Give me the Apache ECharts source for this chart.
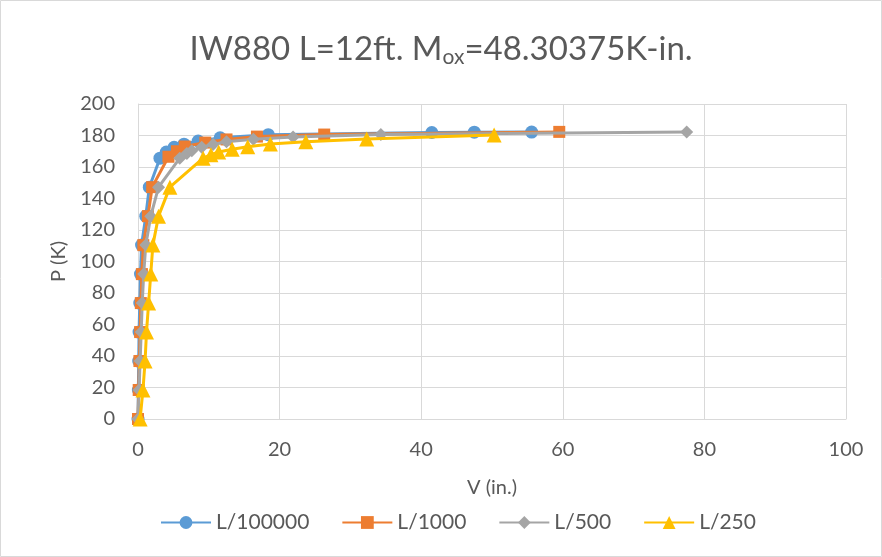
<!DOCTYPE html>
<html>
<head>
<meta charset="utf-8">
<script src="https://cdn.jsdelivr.net/npm/echarts@6/dist/echarts.min.js"></script>
<style>
  html, body { margin: 0; padding: 0; background: #fff; }
  #chart { width: 882px; height: 557px; }
</style>
</head>
<body>
<div id="chart"></div>
<script>
// Load P (K) against displacement V (in.) for four deflection limits
const seriesNames = ['L/100000', 'L/1000', 'L/500', 'L/250'];

const vL100000 = [0, 0.05, 0.1, 0.15, 0.25, 0.35, 0.5, 1.1, 1.6, 3.1, 4.0, 5.1, 6.5, 8.5, 11.6, 18.4, 41.5, 47.5, 55.6];
const pL100000 = [0, 18.4, 36.8, 55.2, 73.6, 92, 110.4, 128.8, 147.2, 165.6, 169.5, 172.5, 174.5, 176.5, 178.5, 180.5, 181.9, 182.1, 182.2];

const vL1000 = [0, 0.1, 0.2, 0.3, 0.4, 0.55, 0.75, 1.4, 2.0, 4.3, 5.5, 6.6, 9.5, 12.5, 16.8, 26.3, 59.5];
const pL1000 = [0, 18.4, 36.8, 55.2, 73.6, 92, 110.4, 128.8, 147.2, 166.5, 170, 173, 175.5, 177.5, 179.3, 180.6, 182.3];

const vL500 = [0, 0.15, 0.3, 0.45, 0.6, 0.8, 1.1, 1.8, 2.9, 5.9, 6.9, 7.6, 9.0, 10.6, 12.5, 16.3, 21.9, 34.3, 77.5];
const pL500 = [0, 18.4, 36.8, 55.2, 73.6, 92, 110.4, 128.8, 147.2, 165.6, 168.5, 170.3, 172.5, 174.3, 176, 177.6, 179, 180.6, 182.3];

const vL250 = [0.3, 0.7, 1.0, 1.2, 1.5, 1.8, 2.1, 2.9, 4.5, 9.2, 10.3, 11.4, 13.3, 15.5, 18.7, 23.7, 32.3, 50.3];
const pL250 = [0, 18.4, 36.8, 55.2, 73.6, 92, 110.4, 128.8, 147.2, 165.6, 167.8, 169.5, 171.3, 172.8, 174.6, 176, 177.8, 180.3];

const xTicks = [0, 20, 40, 60, 80, 100];
const yTicks = [0, 20, 40, 60, 80, 100, 120, 140, 160, 180, 200];

const colors = ['#5b9bd5', '#ed7d31', '#a5a5a5', '#ffc000'];
const symbols = ['circle', 'rect', 'diamond', 'triangle'];
const symbolSizes = [13, 12, 13, 15];
const vData = [vL100000, vL1000, vL500, vL250];
const pData = [pL100000, pL1000, pL500, pL250];

const font = 'Lato, "Open Sans", sans-serif';
const textColor = '#595959';
const gridColor = '#d9d9d9';

const chart = echarts.init(document.getElementById('chart'), null, { renderer: 'canvas' });

const series = seriesNames.map((name, i) => ({
  name,
  type: 'line',
  data: vData[i].map((v, k) => [v, pData[i][k]]),
  symbol: symbols[i],
  symbolSize: symbolSizes[i],
  showAllSymbol: true,
  lineStyle: { color: colors[i], width: 3 },
  itemStyle: { color: colors[i] },
  z: 2 + i,
  animation: false
}));

chart.setOption({
  animation: false,
  color: colors,
  title: {
    text: '{a|IW880 L=12ft. M}{s|ox}{a|=48.30375K-in.}',
    left: 'center',
    top: 25,
    textStyle: {
      rich: {
        a: { fontFamily: font, fontSize: 33, fontWeight: 'normal', color: textColor },
        s: { fontFamily: font, fontSize: 21, fontWeight: 'normal', color: textColor, padding: [17, 0, 0, 0] }
      }
    }
  },
  graphic: [{
    type: 'rect',
    shape: { x: 0.5, y: 0.5, width: 881, height: 556 },
    style: { fill: 'none', stroke: gridColor, lineWidth: 1 },
    silent: true
  }],
  grid: { left: 138, right: 36, top: 104, bottom: 138 },
  legend: {
    data: seriesNames,
    bottom: 19,
    left: 155,
    itemWidth: 50,
    itemHeight: 16,
    itemGap: 32,
    textStyle: { fontFamily: font, fontSize: 21, color: textColor }
  },
  xAxis: {
    type: 'value',
    min: xTicks[0],
    max: xTicks[xTicks.length - 1],
    interval: 20,
    name: 'V (in.)',
    nameLocation: 'middle',
    nameGap: 59,
    nameTextStyle: { fontFamily: font, fontSize: 20, color: textColor },
    axisLine: { show: true, onZero: false, lineStyle: { color: gridColor, width: 1 } },
    axisTick: { show: false },
    axisLabel: { fontFamily: font, fontSize: 20, color: textColor, margin: 21 },
    splitLine: { show: true, lineStyle: { color: gridColor, width: 1 } }
  },
  yAxis: {
    type: 'value',
    min: yTicks[0],
    max: yTicks[yTicks.length - 1],
    interval: 20,
    name: 'P (K)',
    nameLocation: 'middle',
    nameGap: 69,
    nameTextStyle: { fontFamily: font, fontSize: 20, color: textColor },
    axisLine: { show: true, lineStyle: { color: gridColor, width: 1 } },
    axisTick: { show: false },
    axisLabel: { fontFamily: font, fontSize: 20, color: textColor, margin: 23 },
    splitLine: { show: true, lineStyle: { color: gridColor, width: 1 } }
  },
  series
});
</script>
</body>
</html>
